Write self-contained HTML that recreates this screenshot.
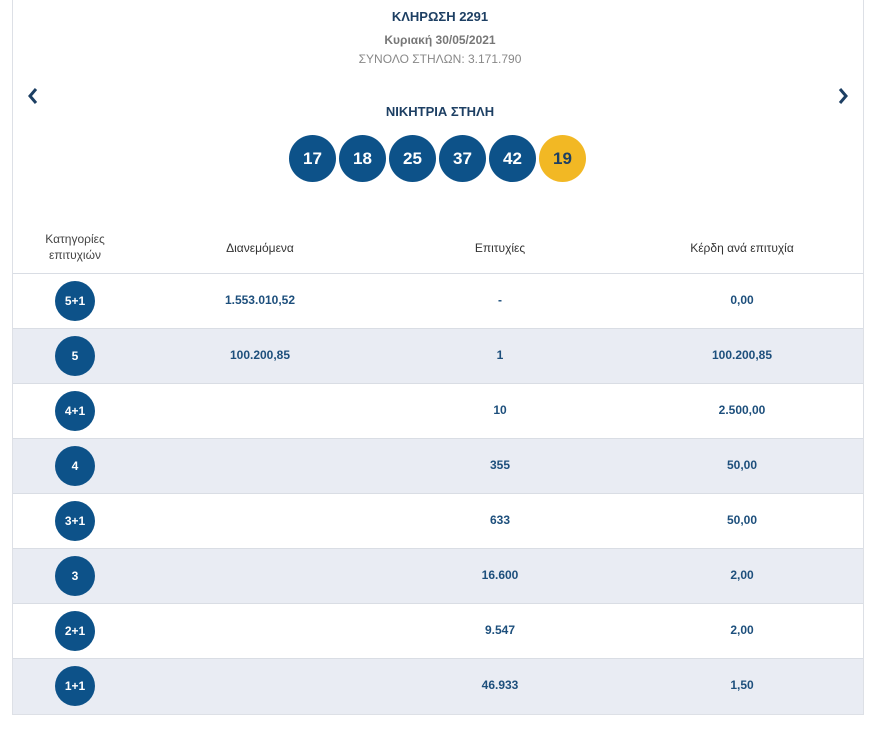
<!DOCTYPE html>
<html><head><meta charset="utf-8"><style>
*{margin:0;padding:0;box-sizing:border-box}
body{width:880px;height:730px;background:#fff;font-family:"Liberation Sans",sans-serif;position:relative;overflow:hidden}
.card{position:absolute;left:12px;top:0;width:852px;height:715px;border-left:1px solid #dde0e6;border-right:1px solid #dde0e6;border-bottom:1px solid #dde0e6}
.t{position:absolute;width:880px;left:0;text-align:center}
.ball{position:absolute;top:135px;width:47px;height:47px;border-radius:50%;background:#0d5289;color:#fff;font-weight:bold;font-size:17px;line-height:47px;text-align:center}
.row{position:absolute;left:13px;width:850px;height:55px;border-top:1px solid #d9dde4}
.row.g{background:#e9ecf3}
.c{position:absolute;top:0;line-height:52px;font-size:12px;font-weight:bold;color:#1d4f7c;text-align:center;width:200px}
.cat{position:absolute;left:42px;top:7px;width:40px;height:40px;border-radius:50%;background:#0d5289;color:#fff;font-size:12px;font-weight:bold;line-height:40px;text-align:center}
.h{position:absolute;font-size:12px;color:#333;text-align:center;width:200px}
svg.arr{position:absolute;top:87px}
</style></head><body>
<div class="card"></div>
<div class="t" style="top:9px;font-size:13px;font-weight:bold;color:#1d3f63">ΚΛΗΡΩΣΗ 2291</div>
<div class="t" style="top:33px;font-size:12px;font-weight:bold;color:#777">Κυριακή 30/05/2021</div>
<div class="t" style="top:52px;font-size:12px;color:#888">ΣΥΝΟΛΟ ΣΤΗΛΩΝ: 3.171.790</div>
<svg class="arr" style="left:26px" width="14" height="18"><polyline points="10,2 4,9 10,16" fill="none" stroke="#1d3f63" stroke-width="3"/></svg>
<svg class="arr" style="left:836px" width="14" height="18"><polyline points="4,2 10,9 4,16" fill="none" stroke="#1d3f63" stroke-width="3"/></svg>
<div class="t" style="top:104px;font-size:13px;font-weight:bold;color:#1d3f63">ΝΙΚΗΤΡΙΑ ΣΤΗΛΗ</div>
<div class="ball" style="left:289px">17</div>
<div class="ball" style="left:339px">18</div>
<div class="ball" style="left:389px">25</div>
<div class="ball" style="left:439px">37</div>
<div class="ball" style="left:489px">42</div>
<div class="ball" style="left:539px;background:#f2b824;color:#1d3f63">19</div>
<div class="h" style="left:-25px;top:231px;line-height:16px;color:#444">Κατηγορίες<br>επιτυχιών</div>
<div class="h" style="left:160px;top:241px">Διανεμόμενα</div>
<div class="h" style="left:400px;top:241px">Επιτυχίες</div>
<div class="h" style="left:642px;top:241px">Κέρδη ανά επιτυχία</div>

<div class="row" style="top:273px"><div class="cat">5+1</div><div class="c" style="left:147px">1.553.010,52</div><div class="c" style="left:387px">-</div><div class="c" style="left:629px">0,00</div></div>
<div class="row g" style="top:328px"><div class="cat">5</div><div class="c" style="left:147px">100.200,85</div><div class="c" style="left:387px">1</div><div class="c" style="left:629px">100.200,85</div></div>
<div class="row" style="top:383px"><div class="cat">4+1</div><div class="c" style="left:387px">10</div><div class="c" style="left:629px">2.500,00</div></div>
<div class="row g" style="top:438px"><div class="cat">4</div><div class="c" style="left:387px">355</div><div class="c" style="left:629px">50,00</div></div>
<div class="row" style="top:493px"><div class="cat">3+1</div><div class="c" style="left:387px">633</div><div class="c" style="left:629px">50,00</div></div>
<div class="row g" style="top:548px"><div class="cat">3</div><div class="c" style="left:387px">16.600</div><div class="c" style="left:629px">2,00</div></div>
<div class="row" style="top:603px"><div class="cat">2+1</div><div class="c" style="left:387px">9.547</div><div class="c" style="left:629px">2,00</div></div>
<div class="row g" style="top:658px;height:56px"><div class="cat">1+1</div><div class="c" style="left:387px">46.933</div><div class="c" style="left:629px">1,50</div></div>
</body></html>
